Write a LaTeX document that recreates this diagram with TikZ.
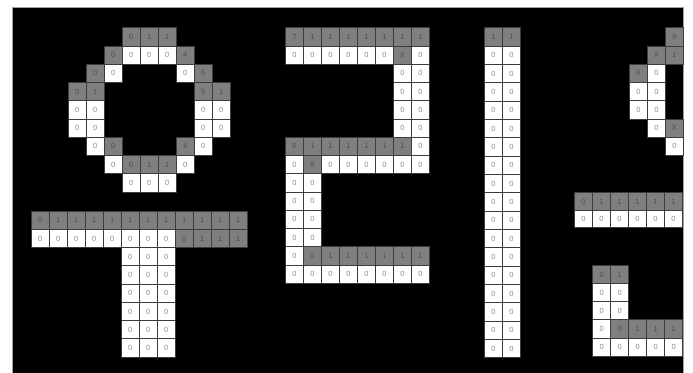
\documentclass[tikz,border=0pt]{standalone}
\usepackage{fontspec}
\newfontfamily\cellfont{Liberation Sans}

\definecolor{cellgray}{HTML}{7F7F7F}
\definecolor{gridline}{HTML}{3C3C3C}
\definecolor{textlight}{HTML}{8C8C8C}
\definecolor{textdark}{HTML}{4E4E4E}
\definecolor{frameline}{HTML}{A0A0A0}

\tikzset{
  cell/.style={draw=gridline, line width=0.9pt, minimum width=18pt,
    minimum height=18.25pt, inner sep=0pt, anchor=north west,
    font=\cellfont\fontsize{7.5}{8}\selectfont},
  wcell/.style={cell, fill=white, text=textlight},
  gcell/.style={cell, fill=cellgray, text=textdark},
}

\begin{document}
\begin{tikzpicture}[x=1pt, y=-1pt]

  \useasboundingbox (0,0) rectangle (693,372);
  \fill[white] (0,0) rectangle (693,372);

  % black board
  \filldraw[fill=black, draw=frameline, line width=0.8pt] (12,7) rectangle (683,373);

  \def\dy{18.25}

  % ring (upper left)
  \def\xa{67.7} \def\ya{27.3}
  \foreach \c/\r/\k/\v in {3/0/g/0,4/0/g/1,5/0/g/1,
      2/1/g/0,3/1/w/0,4/1/w/0,5/1/w/0,6/1/g/4,
      1/2/g/0,2/2/w/0,6/2/w/0,7/2/g/6,
      0/3/g/0,1/3/g/1,7/3/g/5,8/3/g/1,
      0/4/w/0,1/4/w/0,7/4/w/0,8/4/w/0,
      0/5/w/0,1/5/w/0,7/5/w/0,8/5/w/0,
      1/6/w/0,2/6/g/0,6/6/g/4,7/6/w/0,
      2/7/w/0,3/7/g/0,4/7/g/1,5/7/g/1,6/7/w/0,
      3/8/w/0,4/8/w/0,5/8/w/0}
    \node[\k cell] (ring-\r-\c) at ({\xa+\c*18},{\ya+\r*\dy}) {\v};

  % tee (lower left)
  \def\xa{30.7} \def\ya{210.7}
  \foreach \c in {0,...,11}
    \node[gcell] (tee-0-\c) at ({\xa+\c*18},{\ya}) {\ifnum\c=0 0\else 1\fi};
  \foreach \c in {0,...,7}
    \node[wcell] (tee-1-\c) at ({\xa+\c*18},{\ya+\dy}) {0};
  \foreach \c in {8,...,11}
    \node[gcell] (tee-1-\c) at ({\xa+\c*18},{\ya+\dy}) {\ifnum\c=8 0\else 1\fi};
  \foreach \r in {2,...,7}
    \foreach \c in {5,6,7}
      \node[wcell] (tee-\r-\c) at ({\xa+\c*18},{\ya+\r*\dy}) {0};

  % rieul (middle)
  \def\xa{285} \def\ya{27.3}
  \foreach \c in {0,...,7}
    \node[gcell] (rieul-0-\c) at ({\xa+\c*18},{\ya}) {\ifnum\c=0 7\else 1\fi};
  \foreach \c/\r/\k/\v in {0/1/w/0,1/1/w/0,2/1/w/0,3/1/w/0,4/1/w/0,5/1/w/0,6/1/g/X,7/1/w/0,
      0/6/g/6,1/6/g/1,2/6/g/1,3/6/g/1,4/6/g/1,5/6/g/1,6/6/g/1,7/6/w/0,
      0/7/w/0,1/7/g/8,2/7/w/0,3/7/w/0,4/7/w/0,5/7/w/0,6/7/w/0,7/7/w/0,
      0/12/w/0,1/12/g/0,2/12/g/1,3/12/g/1,4/12/g/1,5/12/g/1,6/12/g/1,7/12/g/1}
    \node[\k cell] (rieul-\r-\c) at ({\xa+\c*18},{\ya+\r*\dy}) {\v};
  \foreach \r in {2,...,5}
    \foreach \c in {6,7}
      \node[wcell] (rieul-\r-\c) at ({\xa+\c*18},{\ya+\r*\dy}) {0};
  \foreach \r in {8,...,11}
    \foreach \c in {0,1}
      \node[wcell] (rieul-\r-\c) at ({\xa+\c*18},{\ya+\r*\dy}) {0};
  \foreach \c in {0,...,7}
    \node[wcell] (rieul-13-\c) at ({\xa+\c*18},{\ya+13*\dy}) {0};

  % stroke (tall column)
  \def\xa{484} \def\ya{27.3}
  \foreach \c in {0,1}
    \node[gcell] (stroke-0-\c) at ({\xa+\c*18},{\ya}) {1};
  \foreach \r in {1,...,17}
    \foreach \c in {0,1}
      \node[wcell] (stroke-\r-\c) at ({\xa+\c*18},{\ya+\r*18.33}) {0};

  % arc (upper right)
  \def\xa{629} \def\ya{27.3}
  \foreach \c/\r/\k/\v in {2/0/g/9,
      1/1/g/X,2/1/g/1,
      0/2/g/X,1/2/w/0,
      0/3/w/0,1/3/w/0,
      0/4/w/0,1/4/w/0,
      1/5/w/0,2/5/g/X,
      2/6/w/0}
    \node[\k cell] (arc-\r-\c) at ({\xa+\c*18},{\ya+\r*\dy}) {\v};

  % dash (middle right)
  \def\xa{574} \def\ya{192.3}
  \foreach \c in {0,...,5} {
    \node[gcell, minimum height=17.5pt] (dash-0-\c) at ({\xa+\c*18},{\ya}) {\ifnum\c=0 0\else 1\fi};
    \node[wcell, minimum height=17.5pt] (dash-1-\c) at ({\xa+\c*18},{\ya+17.5}) {0};
  }

  % ell (lower right)
  \def\xa{592.3} \def\ya{265}
  \foreach \c/\r/\k/\v in {0/0/g/0,1/0/g/1,
      0/1/w/0,1/1/w/0,
      0/2/w/0,1/2/w/0,
      0/3/w/0,1/3/g/0,2/3/g/1,3/3/g/1,4/3/g/1,
      0/4/w/0,1/4/w/0,2/4/w/0,3/4/w/0,4/4/w/0}
    \node[\k cell] (ell-\r-\c) at ({\xa+\c*18},{\ya+\r*18.15}) {\v};

\end{tikzpicture}
\end{document}
